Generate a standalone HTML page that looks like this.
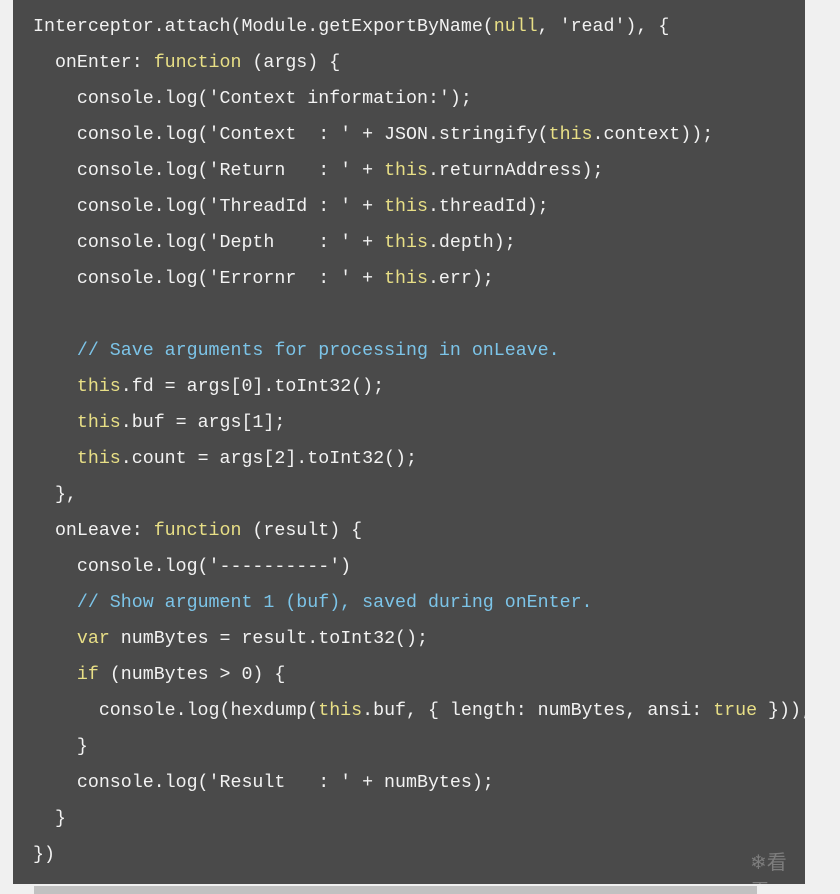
<!DOCTYPE html>
<html><head><style>
html,body{margin:0;padding:0;width:840px;height:894px;background:#f0f0f0;overflow:hidden;position:relative}
.blk{position:absolute;left:13px;top:0;width:792px;height:884px;background:#4a4a4a;overflow:hidden}
pre{margin:0;position:absolute;left:20px;top:9px;font-family:"Liberation Mono",monospace;font-size:18.3px;line-height:36px;color:#f2f2f2;white-space:pre}
.k{color:#e8df86}.c{color:#7cc4e8}
.sb{position:absolute;left:34px;top:886px;width:723px;height:8px;background:#c1c1c1}
.wm{position:absolute;left:737px;top:846px;color:#8a8a8a;font-family:"Noto Sans CJK SC",sans-serif;font-size:20px;opacity:.8}
</style></head><body>
<div class="blk"><pre>Interceptor.attach(Module.getExportByName(<span class="k">null</span>, 'read'), {
  onEnter: <span class="k">function</span> (args) {
    console.log('Context information:');
    console.log('Context  : ' + JSON.stringify(<span class="k">this</span>.context));
    console.log('Return   : ' + <span class="k">this</span>.returnAddress);
    console.log('ThreadId : ' + <span class="k">this</span>.threadId);
    console.log('Depth    : ' + <span class="k">this</span>.depth);
    console.log('Errornr  : ' + <span class="k">this</span>.err);

    <span class="c">// Save arguments for processing in onLeave.</span>
    <span class="k">this</span>.fd = args[0].toInt32();
    <span class="k">this</span>.buf = args[1];
    <span class="k">this</span>.count = args[2].toInt32();
  },
  onLeave: <span class="k">function</span> (result) {
    console.log('----------')
    <span class="c">// Show argument 1 (buf), saved during onEnter.</span>
    <span class="k">var</span> numBytes = result.toInt32();
    <span class="k">if</span> (numBytes > 0) {
      console.log(hexdump(<span class="k">this</span>.buf, { length: numBytes, ansi: <span class="k">true</span> }));
    }
    console.log('Result   : ' + numBytes);
  }
})</pre><div class="wm">❄看雪</div></div>
<div class="sb"></div>
</body></html>
